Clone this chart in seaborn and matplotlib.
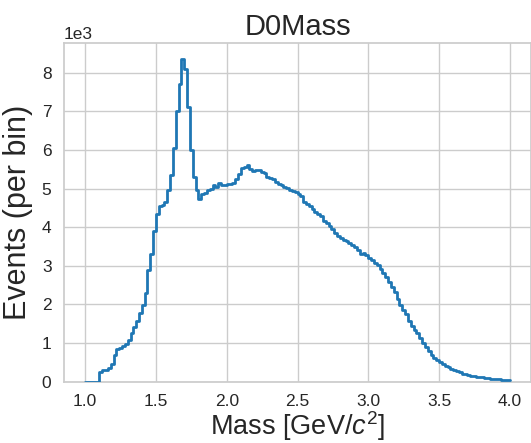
import numpy as np
import pandas as pd
import matplotlib
matplotlib.use("Agg")
import matplotlib.pyplot as plt
import seaborn as sns

bin_width = 0.02
bin_start = 1.00
# counts per bin in units of 1e3 (150 bins from 1.00 to 4.00)
counts_k = [
    0, 0, 0, 0, 0, 0.25, 0.3, 0.3, 0.35, 0.47,            # 1.00-1.18
    0.69, 0.84, 0.88, 0.92, 0.97, 1.08, 1.25, 1.42, 1.57, 1.77,  # 1.20-1.38
    1.99, 2.3, 2.9, 3.3, 3.9, 4.35, 4.55, 4.58, 4.65, 4.95,  # 1.40-1.58
    5.35, 6.05, 7.0, 7.7, 8.35, 8.1, 7.1, 6.0, 5.3, 4.95,  # 1.60-1.78
    4.72, 4.85, 4.88, 4.95, 5.0, 5.1, 5.05, 5.15, 5.1, 5.1,  # 1.80-1.98
    5.13, 5.13, 5.15, 5.25, 5.38, 5.53, 5.57, 5.6, 5.5, 5.45,  # 2.00-2.18
    5.48, 5.47, 5.43, 5.4, 5.31, 5.26, 5.24, 5.18, 5.12, 5.08,  # 2.20-2.38
    5.05, 5.02, 4.97, 4.94, 4.9, 4.86, 4.8, 4.66, 4.6, 4.55,  # 2.40-2.58
    4.47, 4.4, 4.33, 4.28, 4.17, 4.1, 4.03, 3.95, 3.85, 3.78,  # 2.60-2.78
    3.72, 3.67, 3.63, 3.6, 3.55, 3.48, 3.42, 3.3, 3.32, 3.28,  # 2.80-2.98
    3.2, 3.14, 3.08, 3.02, 2.92, 2.82, 2.7, 2.58, 2.45, 2.32,  # 3.00-3.18
    2.15, 1.98, 1.86, 1.74, 1.58, 1.45, 1.35, 1.25, 1.13, 1.0,  # 3.20-3.38
    0.9, 0.8, 0.7, 0.62, 0.55, 0.5, 0.45, 0.41, 0.37, 0.33,  # 3.40-3.58
    0.3, 0.27, 0.24, 0.21, 0.19, 0.17, 0.15, 0.14, 0.13, 0.12,  # 3.60-3.78
    0.11, 0.1, 0.09, 0.08, 0.07, 0.065, 0.06, 0.055, 0.05, 0.04,  # 3.80-3.98
]
counts = np.array(counts_k) * 1000.0
n_bins = len(counts)
edges = bin_start + bin_width * np.arange(n_bins + 1)
centers = 0.5 * (edges[:-1] + edges[1:])
df = pd.DataFrame({"mass": centers, "count": counts})

title = "D0Mass"
xlabel = r"Mass [GeV/$c^2$]"
ylabel = "Events (per bin)"
xticks = [1.0, 1.5, 2.0, 2.5, 3.0, 3.5, 4.0]

sns.set_theme(style="whitegrid")
plt.rcParams["font.family"] = ["Liberation Sans", "DejaVu Sans"]
plt.rcParams["mathtext.fontset"] = "custom"
plt.rcParams["mathtext.rm"] = "Liberation Sans"
plt.rcParams["mathtext.it"] = "Liberation Sans:italic"

fig = plt.figure(figsize=(5.31, 4.43), dpi=100)
ax = fig.add_axes([64 / 531, (443 - 381.7) / 443, (531 - 64) / 531, (381.7 - 43) / 443])

sns.histplot(data=df, x="mass", weights="count", bins=n_bins,
             binrange=(float(edges[0]), float(edges[-1])), element="step", fill=False,
             color="#1f77b4", linewidth=2, zorder=3, ax=ax)

ax.set_title(title, fontsize=21, color="#262626", pad=6)
ax.set_xlabel(xlabel, fontsize=19.5, color="#262626", labelpad=0)
ax.set_ylabel(ylabel, fontsize=22, color="#262626", labelpad=6)
ax.ticklabel_format(style="sci", axis="y", scilimits=(3, 3))
ax.yaxis.get_offset_text().set_fontsize(12.5)
ax.tick_params(labelsize=12.5, pad=3)
ax.set_xticks(xticks)

fig.savefig("out.png", dpi=100)
